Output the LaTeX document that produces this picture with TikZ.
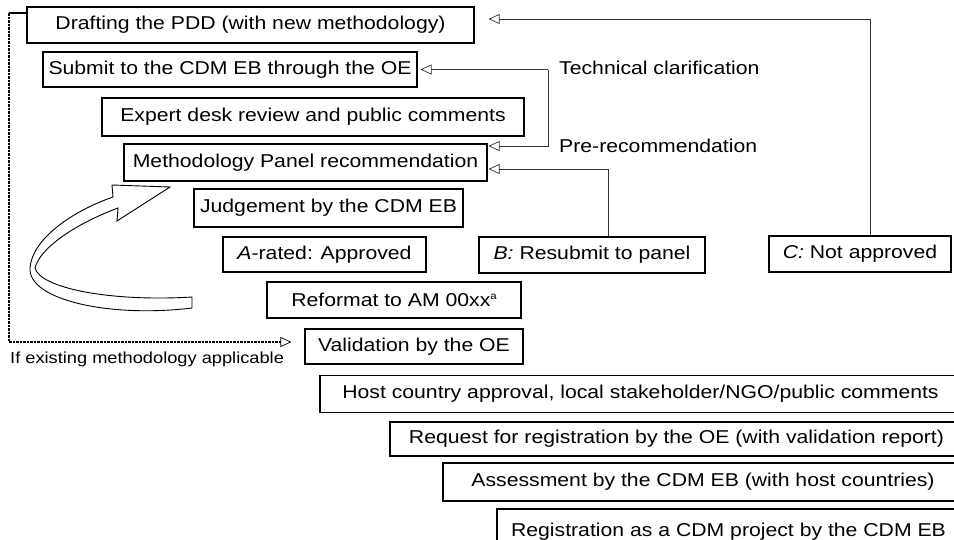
\documentclass[tikz,border=0pt]{standalone}
\usepackage{fontspec}
\setmainfont{Liberation Sans}[FakeStretch=1.14]
\usetikzlibrary{arrows.meta}
\begin{document}
\begin{tikzpicture}[x=1pt,y=-1pt,
  box/.style={draw, line width=1.1pt, inner sep=0pt, font=\fontsize{18.6}{20}\selectfont, anchor=center},
  lbl/.style={inner sep=0pt, font=\fontsize{18.6}{20}\selectfont, anchor=west},
  conn/.style={line width=0.7pt, draw=black!80},
  tip/.style={-{Triangle[open,length=11pt,width=10pt,line width=0.7pt]}}]
\useasboundingbox (0,0) rectangle (954,539);
\node[box, minimum width=447pt, minimum height=36pt] (draft) at (250.5,25) {Drafting the PDD (with new methodology)};
\node[box, minimum width=374pt, minimum height=35pt] (submit) at (230,69.5) {Submit to the CDM EB through the OE};
\node[box, minimum width=422pt, minimum height=38pt] (expert) at (313,117) {Expert desk review and public comments};
\node[box, minimum width=363pt, minimum height=37pt] (method) at (305.5,162.5) {Methodology Panel recommendation};
\node[box, minimum width=269pt, minimum height=38pt] (judge) at (328.5,208) {Judgement by the CDM EB};
\node[box, minimum width=203pt, minimum height=35pt] (arated) at (324.5,254.5) {\textit{A}-rated: Approved};
\node[box, minimum width=226pt, minimum height=36pt] (bres) at (592,255) {\textit{B:} Resubmit to panel};
\node[box, minimum width=182pt, minimum height=36pt] (cnot) at (860,254) {\textit{C:} Not approved};
\node[box, minimum width=254pt, minimum height=36pt] (reformat) at (394,300) {Reformat to AM 00xx\raisebox{7pt}{\fontsize{10}{10}\selectfont a}};
\node[box, minimum width=218pt, minimum height=35pt] (valid) at (414,346.5) {Validation by the OE};
\node[box, minimum width=641pt, minimum height=37pt] (host) at (640.5,394) {Host country approval, local stakeholder/NGO/public comments};
\node[box, minimum width=573pt, minimum height=34pt] (request) at (676.5,439) {Request for registration by the OE (with validation report)};
\node[box, minimum width=520pt, minimum height=38pt] (assess) at (703,482) {Assessment by the CDM EB (with host countries)};
\node[box, minimum width=463pt, minimum height=46pt] (regist) at (728.5,532) {\raisebox{5pt}{Registration as a CDM project by the CDM EB}};

% labels
\node[lbl] (tclab) at (559,68) {Technical clarification};
\node[lbl] (prlab) at (559,146) {Pre-recommendation};
\node[lbl, font=\fontsize{16}{18}\selectfont] (exlab) at (10,359) {If existing methodology applicable};

% C: not approved back to drafting
\draw[conn,tip] ([xshift=10pt]cnot.north) |- ([xshift=14pt,yshift=6pt]draft.east);
% technical clarification / pre-recommendation
\coordinate (tc) at (548,69.5);
\draw[conn,tip] (tc) -- ([xshift=3pt]submit.east);
\draw[conn,tip] (tc) |- ([xshift=1pt,yshift=16.5pt]method.east);
% B: resubmit
\draw[conn,tip] ([xshift=16pt]bres.north) |- ([xshift=1pt,yshift=-6.5pt]method.east);
% existing methodology path
\coordinate (dc) at (9,13);
\coordinate (dd) at (9,342);
\draw[line width=1.4pt] (dc) -- (dc -| draft.west);
\draw[dash pattern=on 2.5pt off 1pt, line width=1.1pt, tip] (dc) -- (dd) -- ([xshift=-13pt]valid.west |- dd);

% big curved hollow arrow
\draw[line width=0.9pt, fill=white] (192,308) .. controls (110,318) and (28,300) .. (30,268)
  .. controls (32,240) and (70,212) .. (113,197) -- (112,185) -- (170,187) -- (117,221) -- (118,208)
  .. controls (75,224) and (40,248) .. (35,268) .. controls (40,288) and (110,302) .. (192,297) -- cycle;
\end{tikzpicture}
\end{document}
